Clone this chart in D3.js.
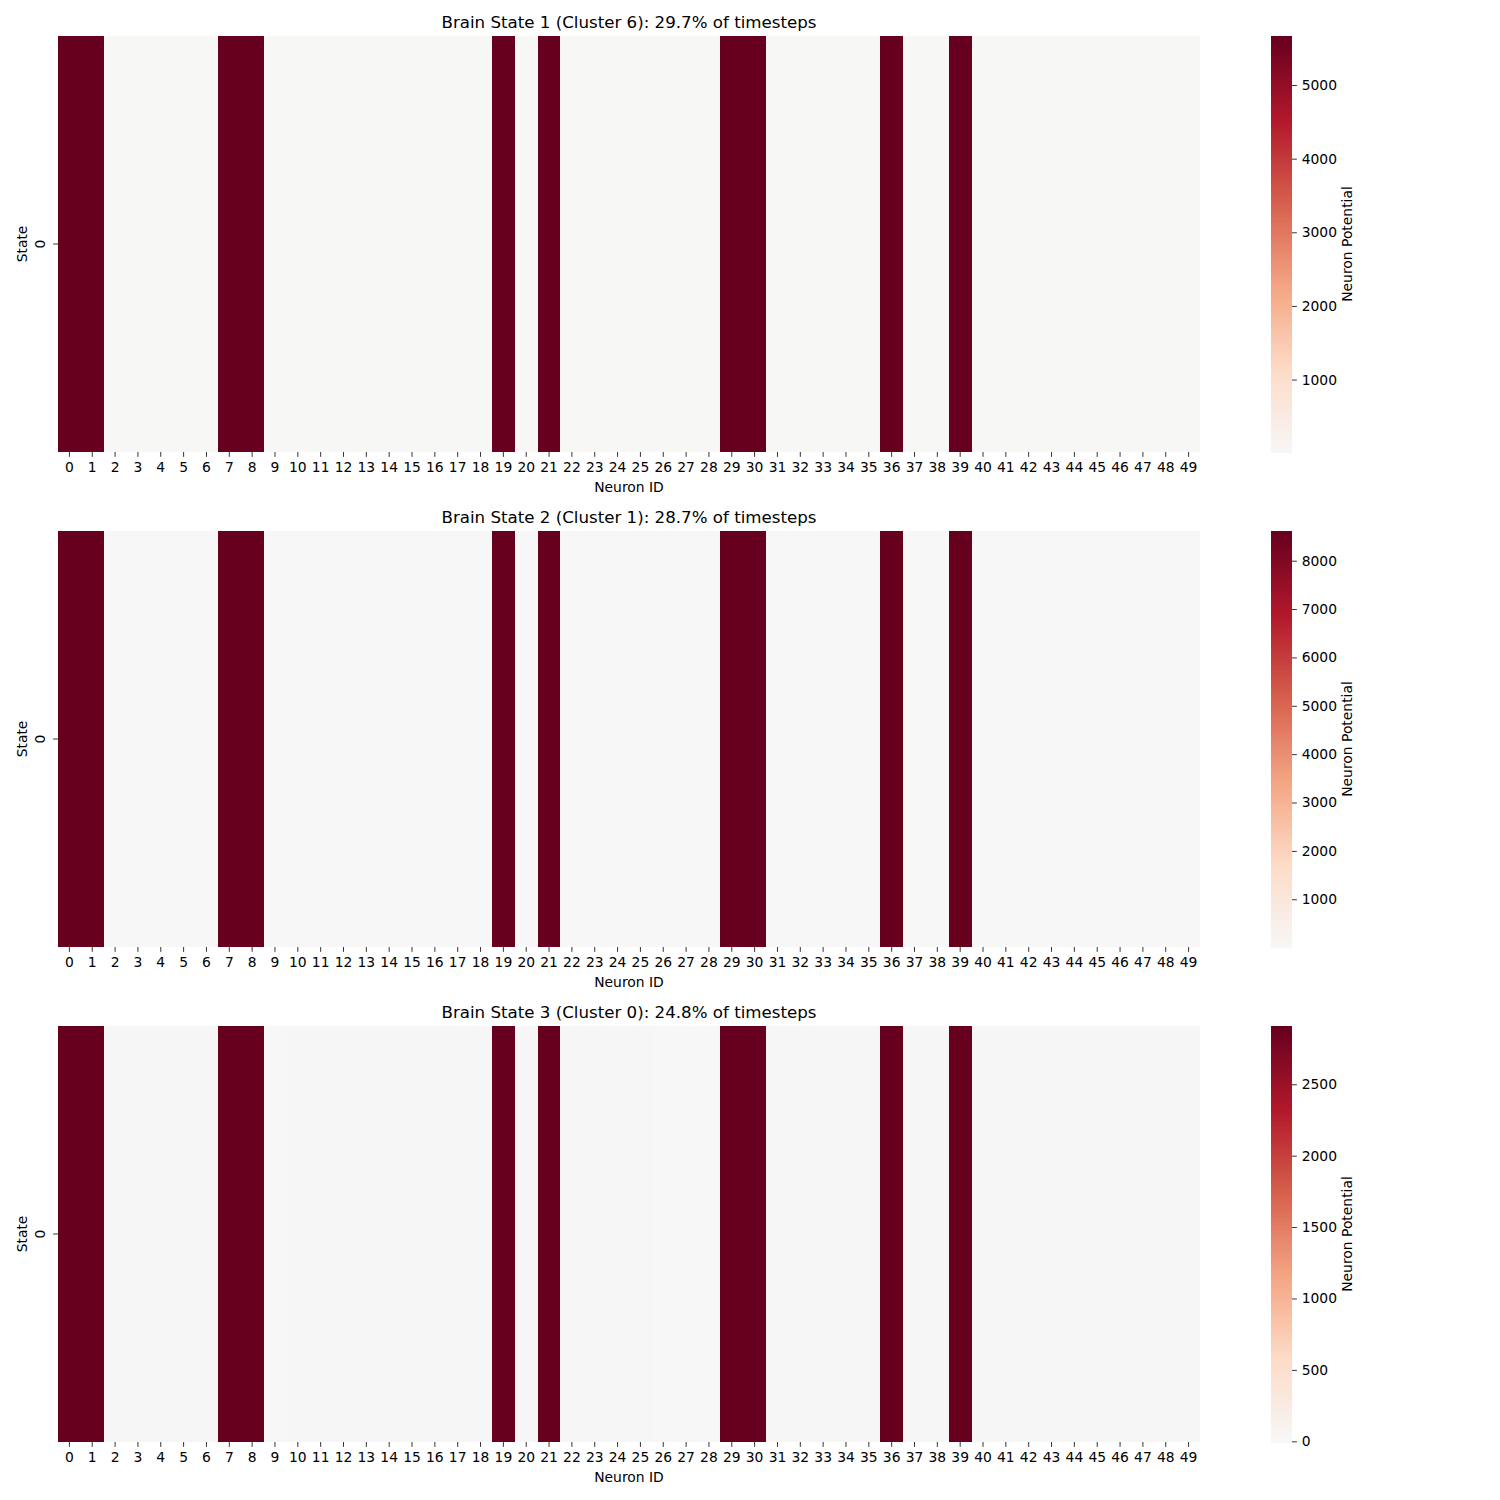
<!DOCTYPE html>
<html><head><meta charset="utf-8">
<script src="https://cdn.jsdelivr.net/npm/d3@7"></script>
<style>
body{margin:0;background:#fff}
svg{display:block}
text{font-family:"DejaVu Sans",sans-serif;fill:#000}
</style>
</head><body>
<svg id="c" width="1500" height="1500"></svg>
<script>
// ---------------- data ----------------
const neuronIds = [0,1,2,3,4,5,6,7,8,9,10,11,12,13,14,15,16,17,18,19,20,21,22,23,24,25,26,27,28,29,30,31,32,33,34,35,36,37,38,39,40,41,42,43,44,45,46,47,48,49];
const stateLabels = ["0"];
const titles = [
  "Brain State 1 (Cluster 6): 29.7% of timesteps",
  "Brain State 2 (Cluster 1): 28.7% of timesteps",
  "Brain State 3 (Cluster 0): 24.8% of timesteps"
];
const state1 = [5666,5661,18,17,19,16,18,5663,5665,17,18,16,19,17,18,16,17,18,19,5660,17,5662,18,16,17,19,18,16,17,5664,5666,18,17,16,19,18,5661,17,18,5663,16,17,18,19,17,16,18,17,19,18];
const state2 = [8614,8608,15,14,16,13,15,8611,8613,14,15,13,16,14,15,13,14,15,16,8606,14,8610,15,13,14,16,15,13,14,8612,8614,15,14,13,16,15,8609,14,15,8611,13,14,15,16,14,13,15,14,16,15];
const state3 = [2908,2903,28,27,29,26,28,2905,2907,-5,28,26,29,27,28,26,27,28,29,2902,27,2904,28,26,27,29,-4,-5,-3,2906,2908,28,27,26,29,28,2903,27,28,2905,26,27,28,29,27,26,28,27,29,28];
const colorbarTicks1 = [1000,2000,3000,4000,5000];
const colorbarTicks2 = [1000,2000,3000,4000,5000,6000,7000,8000];
const colorbarTicks3 = [0,500,1000,1500,2000,2500];
// matplotlib RdBu_r anchor colours
const rdbuR = ["#053061","#2166ac","#4393c3","#92c5de","#d1e5f0","#f7f7f7","#fddbc7","#f4a582","#d6604d","#b2182b","#67001f"];

const panels = [
  {title: titles[0], values: state1, ticks: colorbarTicks1},
  {title: titles[1], values: state2, ticks: colorbarTicks2},
  {title: titles[2], values: state3, ticks: colorbarTicks3}
];

// ---------------- layout ----------------
const svg = d3.select("#c");
const left = 58, right = 1200, panelH = 416, tops = [36, 531, 1026];
const cbX = 1271, cbW = 21;
const tickFont = 13.89, tickLen = 4.86, tickPad = 4.86;

const base = d3.scaleLinear()
  .domain(d3.range(rdbuR.length).map(i => i/(rdbuR.length-1)))
  .range(rdbuR).interpolate(d3.interpolateRgb).clamp(true);

function makeColor(vmin, vmax){
  // seaborn's centred colormap (center = 0)
  const vr = Math.max(vmax, -vmin);
  const cmin = (vmin + vr)/(2*vr), cmax = (vmax + vr)/(2*vr);
  const lut = d3.range(256).map(i => base(cmin + (cmax-cmin)*i/255));
  return v => lut[Math.max(0, Math.min(255, Math.floor((v - vmin)/(vmax - vmin)*256)))];
}

panels.forEach((p, k) => {
  const top = tops[k], bottom = top + panelH;
  const g = svg.append("g");
  const vmin = d3.min(p.values), vmax = d3.max(p.values);
  const color = makeColor(vmin, vmax);

  const x = d3.scaleBand().domain(neuronIds).range([left, right]);
  const y = d3.scaleBand().domain(stateLabels).range([top, bottom]);

  g.selectAll("rect.cell").data(p.values).join("rect")
    .attr("class","cell")
    .attr("shape-rendering","crispEdges")
    .attr("x", (d,i) => x(neuronIds[i]))
    .attr("y", y(stateLabels[0]))
    .attr("width", x.bandwidth())
    .attr("height", y.bandwidth())
    .attr("fill", d => color(d));

  // x axis
  const xa = g.append("g").attr("transform", `translate(0,${bottom})`)
    .call(d3.axisBottom(x).tickSize(tickLen).tickPadding(tickPad));
  xa.select(".domain").remove();
  xa.selectAll("line").attr("stroke","#000").attr("stroke-width",0.8);
  xa.selectAll("text").style("font-size", tickFont+"px").attr("fill","#000")
    .style("font-family","'DejaVu Sans',sans-serif");

  g.append("text").attr("x", (left+right)/2).attr("y", bottom + 40)
    .attr("text-anchor","middle").style("font-size", tickFont+"px").text("Neuron ID");

  // y axis (single row, vertical label)
  stateLabels.forEach(s => {
    const cy = y(s) + y.bandwidth()/2;
    g.append("line").attr("x1", left - tickLen).attr("x2", left)
      .attr("y1", cy).attr("y2", cy).attr("stroke","#000").attr("stroke-width",0.8);
    g.append("text").attr("transform", `translate(45,${cy}) rotate(-90)`)
      .attr("text-anchor","middle").style("font-size", tickFont+"px").text(s);
  });
  g.append("text").attr("transform", `translate(27,${top + panelH/2}) rotate(-90)`)
    .attr("text-anchor","middle").style("font-size", tickFont+"px").text("State");

  // title
  g.append("text").attr("x", (left+right)/2).attr("y", top - 8.3)
    .attr("text-anchor","middle").style("font-size","16.67px").text(p.title);

  // colorbar
  const cy = d3.scaleLinear().domain([vmin, vmax]).range([bottom, top]);
  const stepV = (vmax - vmin)/256;
  const steps = d3.range(256).map(i => vmin + stepV*i);
  g.selectAll("rect.cb").data(steps).join("rect")
    .attr("class","cb")
    .attr("shape-rendering","crispEdges")
    .attr("x", cbX).attr("width", cbW)
    .attr("y", d => cy(d + stepV))
    .attr("height", d => cy(d) - cy(d + stepV) + 0.5)
    .attr("fill", d => color(d + stepV/2));
  const ca = g.append("g").attr("transform", `translate(${cbX + cbW},0)`)
    .call(d3.axisRight(cy).tickValues(p.ticks).tickSize(tickLen).tickPadding(tickPad).tickFormat(d3.format("d")));
  ca.select(".domain").remove();
  ca.selectAll("line").attr("stroke","#000").attr("stroke-width",0.8);
  ca.selectAll("text").style("font-size", tickFont+"px").attr("fill","#000")
    .style("font-family","'DejaVu Sans',sans-serif");
  g.append("text").attr("transform", `translate(1352,${top + panelH/2}) rotate(-90)`)
    .attr("text-anchor","middle").style("font-size", tickFont+"px").text("Neuron Potential");
});
</script>
</body></html>
